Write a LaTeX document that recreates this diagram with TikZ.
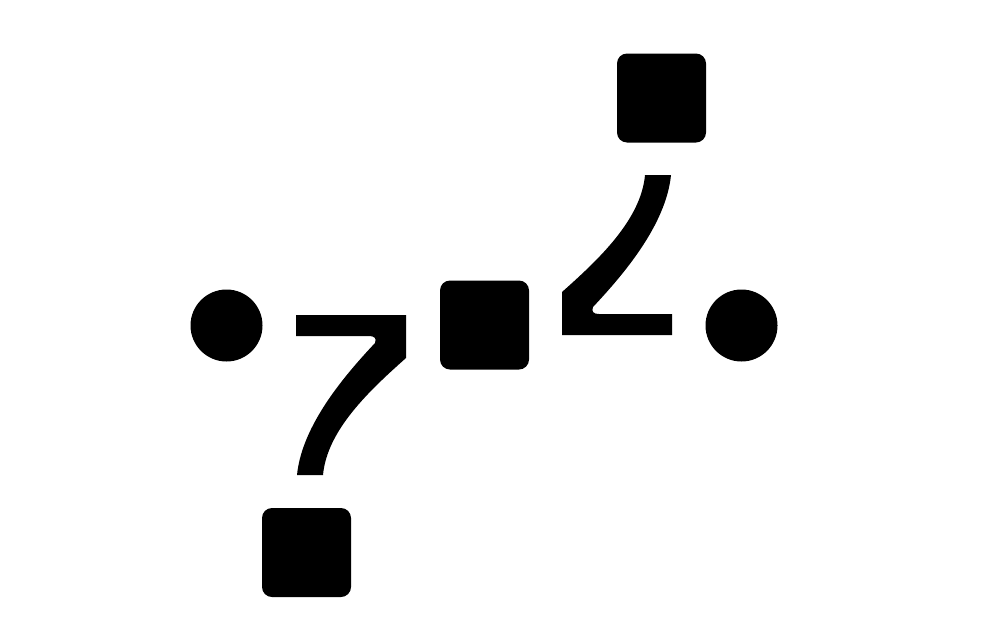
\documentclass[tikz,border=0pt]{standalone}
\begin{document}
\begin{tikzpicture}[x=1pt,y=-1pt,
  dotnode/.style={circle,fill=black,inner sep=0pt,minimum size=72pt},
  boxnode/.style={rectangle,fill=black,inner sep=0pt,minimum size=89pt,rounded corners=10pt},
  linkshape/.style={fill=black}]
\useasboundingbox[fill=white] (0,0) rectangle (1000,643);
\node[dotnode] (lc) at (226.5,325.5) {};
\node[dotnode] (rc) at (741.5,325.5) {};
\node[boxnode] (mid) at (484.5,325) {};
\node[boxnode] (top) at (661.5,98) {};
\node[boxnode] (bot) at (306.5,552.5) {};
\def\linkpath{(296,315) -- (406,315) -- (406,358)
  .. controls (370,390) and (327,430) .. (323,475)
  -- (297,475)
  .. controls (302,425) and (345,375) .. (375,343)
  .. controls (377,338) and (374,336) .. (369,336)
  -- (296,336) -- cycle}
\fill[linkshape] \linkpath;
\begin{scope}[rotate around={180:(484,325)}]
\fill[linkshape] \linkpath;
\end{scope}
\end{tikzpicture}
\end{document}
